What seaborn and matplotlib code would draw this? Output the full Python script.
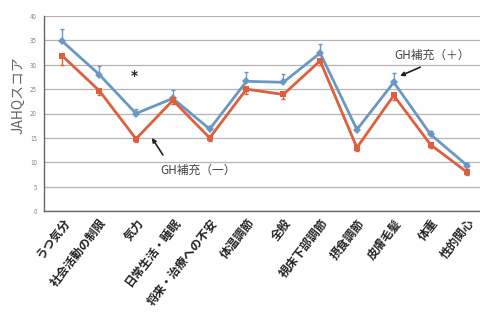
import matplotlib
matplotlib.use("Agg")
import matplotlib.pyplot as plt
import seaborn as sns
import numpy as np
import pandas as pd

# JAHQ domain scores by GH replacement status
categories = ["うつ気分", "社会活動の制限", "気力", "日常生活・睡眠", "将来・治療への不安",
              "体温調節", "全般", "視床下部調節", "摂食調節", "皮膚毛髪", "体重", "性的関心"]
gh_plus = [34.8, 28.0, 20.0, 23.1, 16.8, 26.6, 26.4, 32.4, 16.7, 26.4, 15.7, 9.3]
gh_plus_err = [2.5, 1.7, 1.0, 1.8, 0.6, 1.9, 1.8, 1.8, 0.7, 2.0, 0.8, 0.5]
gh_minus = [31.8, 24.7, 14.8, 22.7, 15.0, 25.0, 23.9, 30.8, 13.0, 23.7, 13.6, 7.9]
gh_minus_err = [1.8, 1.0, 0.6, 0.8, 0.6, 1.0, 1.0, 0.8, 0.7, 1.0, 0.6, 0.5]
yticks = [0, 5, 10, 15, 20, 25, 30, 35, 40]

blue = "#6b98c2"
red = "#dd5f3c"

sns.set_theme(style="white")
plt.rcParams["font.family"] = ["Noto Sans CJK JP", "DejaVu Sans"]

fig = plt.figure(figsize=(4.81, 3.24), dpi=100)
ax = fig.add_axes([44 / 481, 1 - 211 / 324, 1 - 44 / 481, (211 - 16) / 324])

x = np.arange(len(categories))
df = pd.DataFrame({
    "x": np.concatenate([x, x]),
    "score": gh_plus + gh_minus,
    "group": ["GH補充（＋）"] * len(x) + ["GH補充（一）"] * len(x),
})

# error bars: upward for GH(+), downward for GH(-)
ax.errorbar(x, gh_plus, yerr=[np.zeros(len(x)), gh_plus_err], fmt="none",
            ecolor=blue, elinewidth=1.0, capsize=1.5, capthick=1.0, zorder=3)
ax.errorbar(x, gh_minus, yerr=[gh_minus_err, np.zeros(len(x))], fmt="none",
            ecolor=red, elinewidth=1.0, capsize=1.5, capthick=1.0, zorder=3)

sns.lineplot(data=df, x="x", y="score", hue="group", style="group",
             palette={"GH補充（＋）": blue, "GH補充（一）": red},
             markers={"GH補充（＋）": "D", "GH補充（一）": "s"},
             dashes=False, linewidth=2.0, markersize=4.0, markeredgewidth=0,
             legend=False, ax=ax, zorder=4)

ax.set_xlim(-0.5, 11.37)
ax.set_ylim(0, 40)
ax.set_yticks(yticks)
ax.set_yticklabels([str(v) for v in yticks], fontsize=4.5, color="#888888")
ax.yaxis.grid(True, color="#b4b4b4", linewidth=0.9)
ax.xaxis.grid(False)
ax.set_axisbelow(True)

ax.set_xticks(x)
ax.set_xticklabels(categories, rotation=52, ha="right", rotation_mode="anchor",
                   fontsize=8.5, fontweight="bold", color="#222222")
ax.tick_params(axis="x", length=0, pad=4)
ax.set_xticks(np.arange(0.5, 11.5, 1), minor=True)
ax.tick_params(axis="x", which="minor", length=2, width=0.8, color="#888888", direction="inout")
ax.tick_params(axis="y", length=3, width=0.6, color="#888888", direction="out", pad=2)

ax.set_xlabel("")
ax.set_ylabel("JAHQスコア", fontsize=10, color="#666666")
ax.yaxis.set_label_coords(-0.042, 0.595)

for side in ["top", "right"]:
    ax.spines[side].set_visible(False)
for side in ["left", "bottom"]:
    ax.spines[side].set_color("#666666")
    ax.spines[side].set_linewidth(1.0)

arrow = dict(arrowstyle="-|>", color="#222222", lw=1.2, shrinkA=0, shrinkB=0, mutation_scale=6)

# significance mark and group labels
ax.text(1.95, 27.6, "*", fontsize=10, color="#222222", ha="center", va="center", fontweight="bold",
        family="DejaVu Sans")
ax.text(3.68, 8.4, "GH補充（一）", fontsize=8.5, color="#444444", ha="center", va="center")
ax.annotate("", xy=(2.43, 15.0), xytext=(2.73, 11.5), arrowprops=arrow)
ax.text(10.04, 32.0, "GH補充（＋）", fontsize=8.5, color="#444444", ha="center", va="center")
ax.annotate("", xy=(9.17, 27.7), xytext=(9.72, 29.5), arrowprops=arrow)

fig.savefig("out.png", dpi=100)
